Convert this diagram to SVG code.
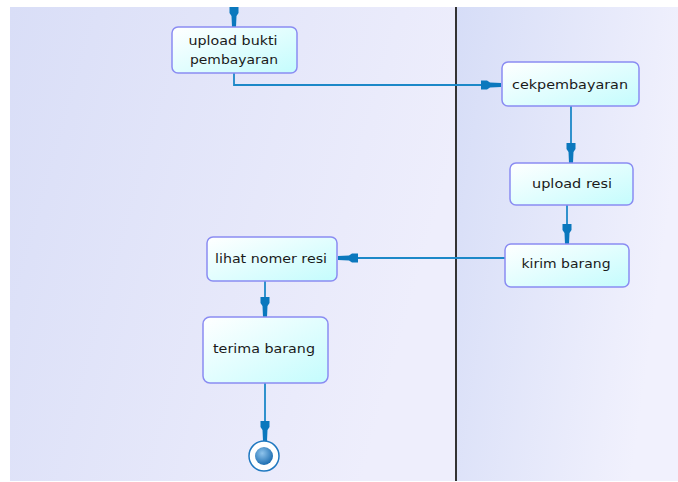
<svg xmlns="http://www.w3.org/2000/svg" width="678" height="482" viewBox="0 0 678 482">
<defs>
<style>
.node{fill:url(#nodeGrad);stroke:#8a8cf2;stroke-width:1.5}
.lbl{font-family:"DejaVu Sans","Liberation Sans",sans-serif;font-size:12px;fill:#1a1a1a;text-anchor:middle}
.conn{fill:none;stroke:#1c88c8;stroke-width:1.8;marker-end:url(#arr)}
</style>
<linearGradient id="nodeGrad" x1="0" y1="0" x2="1" y2="1">
<stop offset="0" stop-color="#ffffff"/>
<stop offset="1" stop-color="#c4fcfd"/>
</linearGradient>
<linearGradient id="laneL" x1="0" y1="0" x2="1" y2="0.3">
<stop offset="0" stop-color="#d9def7"/>
<stop offset="1" stop-color="#eeeefc"/>
</linearGradient>
<linearGradient id="laneR" x1="0" y1="0" x2="1" y2="0.3">
<stop offset="0" stop-color="#d6ddf7"/>
<stop offset="1" stop-color="#f1f1fd"/>
</linearGradient>
<radialGradient id="dot" cx="0.4" cy="0.35" r="0.7">
<stop offset="0" stop-color="#8fc4ec"/>
<stop offset="1" stop-color="#1668ad"/>
</radialGradient>
<marker id="arr" markerUnits="userSpaceOnUse" markerWidth="22" markerHeight="12" refX="20" refY="0" viewBox="0 -6 22 12" orient="auto">
<path d="M0,-4.5 L6,-4.5 L9,-2.5 L20,-2 L20,2 L9,2.5 L6,4.5 L0,4.5 Z" fill="#0b78bd"/>
</marker>
</defs>
<rect x="0" y="0" width="678" height="482" fill="#ffffff"/>
<rect x="10" y="7" width="446" height="474" fill="url(#laneL)"/>
<rect x="456" y="7" width="222" height="474" fill="url(#laneR)"/>
<line x1="456" y1="7" x2="456" y2="481" stroke="#333333" stroke-width="2"/>
<g id="connectors">
<line class="conn" x1="234" y1="7" x2="234" y2="27"/>
<polyline class="conn" points="234,73 234,85 501,85"/>
<line class="conn" x1="571" y1="106" x2="571" y2="163"/>
<line class="conn" x1="567" y1="205" x2="567" y2="244"/>
<line class="conn" x1="505" y1="258" x2="338" y2="258"/>
<line class="conn" x1="265" y1="281" x2="265" y2="317"/>
<line class="conn" x1="265" y1="383" x2="265" y2="441"/>
</g>
<g id="upload_bukti">
<rect class="node" x="172" y="27" width="125" height="46" rx="6"/>
<text class="lbl" x="233" y="45" textLength="89" lengthAdjust="spacingAndGlyphs">upload bukti</text>
<text class="lbl" x="234" y="64" textLength="88" lengthAdjust="spacingAndGlyphs">pembayaran</text>
</g>
<g id="cekpembayaran">
<rect class="node" x="502" y="62" width="137" height="44" rx="6"/>
<text class="lbl" x="570" y="89" textLength="116" lengthAdjust="spacingAndGlyphs">cekpembayaran</text>
</g>
<g id="upload_resi">
<rect class="node" x="510" y="163" width="123" height="42" rx="6"/>
<text class="lbl" x="572" y="188" textLength="80" lengthAdjust="spacingAndGlyphs">upload resi</text>
</g>
<g id="kirim_barang">
<rect class="node" x="505" y="244" width="124" height="43" rx="6"/>
<text class="lbl" x="566" y="268" textLength="89" lengthAdjust="spacingAndGlyphs">kirim barang</text>
</g>
<g id="lihat_nomer_resi">
<rect class="node" x="207" y="237" width="130" height="44" rx="6"/>
<text class="lbl" x="271" y="263" textLength="112" lengthAdjust="spacingAndGlyphs">lihat nomer resi</text>
</g>
<g id="terima_barang">
<rect class="node" x="203" y="317" width="125" height="66" rx="7"/>
<text class="lbl" x="264" y="353" textLength="102" lengthAdjust="spacingAndGlyphs">terima barang</text>
</g>
<g id="end">
<circle cx="264" cy="456" r="15" fill="#ffffff" stroke="#1f78c0" stroke-width="1.5"/>
<circle cx="264" cy="456" r="9" fill="url(#dot)"/>
</g>
</svg>
